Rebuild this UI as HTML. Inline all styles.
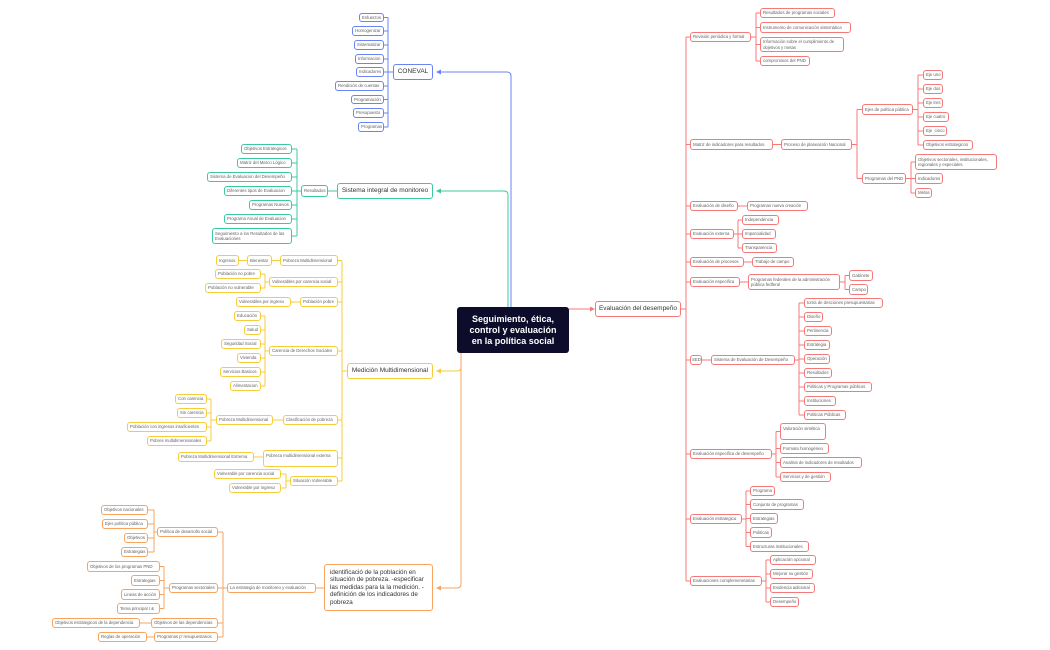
<!DOCTYPE html>
<html><head><meta charset="utf-8"><style>
body{margin:0;width:1050px;height:650px;background:#fff;position:relative;overflow:hidden;font-family:"Liberation Sans",sans-serif}
svg{position:absolute;left:0;top:0}
.n{position:absolute;box-sizing:border-box;border:1px solid;border-radius:3px;background:#fff;font-size:4.4px;letter-spacing:-0.05px;color:#666;display:flex;align-items:center;padding:0 2px;white-space:nowrap;overflow:hidden;line-height:5.3px}
.w{white-space:normal}
.b{border-color:#6b84f3}.g{border-color:#3cc9a0}.y{border-color:#f5cd3b}.o{border-color:#f6a460}.r{border-color:#f47a7a}
.m{font-size:6.5px;color:#333;justify-content:center;border-width:1.5px;letter-spacing:0}
</style></head><body>
<svg width="1050" height="650" fill="none" stroke-width="1">
<g stroke="#6b84f3">
<path d="M511 307V76Q511 72 507 72H440"/>
<path d="M393 72H388M388 17.5V127M384 17.5H388M384 31H388M384 45H388M384 59H388M384 72H388M384 86H388M384 99.5H388M384 113H388M384 127H388"/>
</g><polygon points="436,72 441,69.5 441,74.5" fill="#6b84f3"/>
<g stroke="#3cc9a0">
<path d="M508 307V195Q508 191 504 191H440"/>
<path d="M337 191H328M301 191H297M297 149V236M292 149H297M292 163H297M292 177H297M292 191H297M292 205H297M292 219H297M292 236H297"/>
</g><polygon points="436,191 441,188.5 441,193.5" fill="#3cc9a0"/>
<g stroke="#f5cd3b">
<path d="M461 353V367Q461 371 457 371H440"/>
<path d="M347 371H342M342 260.5V481M338 260.5H342M338 282H342M338 302H342M338 351H342M338 420H342M338 458H342M338 481H342"/>
<path d="M280 260.5H258M248 260.5H239M269 282H265M265 274V288M261 274H265M261 288H265M300 302H291"/>
<path d="M269 351H265M265 316V386M261 316H265M261 330H265M261 344H265M261 358H265M261 372H265M261 386H265"/>
<path d="M283 420H273M216 420H211M211 399V441M207 399H211M207 413H211M207 427H211M207 441H211M263 457H254"/>
<path d="M290 481H286M286 474V488M281 474H286M281 488H286"/>
</g><polygon points="436,371 441,368.5 441,373.5" fill="#f5cd3b"/>
<g stroke="#f6a460">
<path d="M461 353V584Q461 588 457 588H440"/>
<path d="M324 588H316M227 588H223M223 532V637M218 532H223M218 588H223M218 623H223M218 637H223"/>
<path d="M157 532H154M154 510V552M148 510H154M148 524H154M148 538H154M148 552H154"/>
<path d="M169 588H164M164 566.5V608.5M160 566.5H164M160 580.5H164M160 594.5H164M160 608.5H164M151 623H140M154 637H147"/>
</g><polygon points="436,588 441,585.5 441,590.5" fill="#f6a460"/>
<g stroke="#f47a7a">
<path d="M569 309H592"/>
<path d="M681 309H686M686 37V581M686 37H690M686 144.5H690M686 206H690M686 234H690M686 262H690M686 282H690M686 360H690M686 454H690M686 519H690M686 581H690"/>
<path d="M751 37H756M756 13V61M756 13H760M756 27.5H760M756 44.5H760M756 61H760"/>
<path d="M773 144.5H781M852 144.5H857M857 109.5V178.5M857 109.5H862M857 178.5H862"/>
<path d="M913 109.5H918M918 75V145M918 75H923M918 89H923M918 103H923M918 117H923M918 131H923M918 145H923"/>
<path d="M906 178.5H911M911 162V193M911 162H915M911 178.5H915M911 193H915"/>
<path d="M738 206H747M734 234H738M738 220V248M738 220H742M738 234H742M738 248H742M744 262H752M740 282H748M840 282H845M845 275.5V289.5M845 275.5H849M845 289.5H849"/>
<path d="M702 360H711M795 360H799M799 303V415M799 303H804M799 317H804M799 331H804M799 345H804M799 359H804M799 373H804M799 387H804M799 401H804M799 415H804"/>
<path d="M772 454H776M776 431.5V477M776 431.5H780M776 448.5H780M776 462.5H780M776 477H780"/>
<path d="M742 519H746M746 491V546.5M746 491H750M746 504.5H750M746 518.5H750M746 532.5H750M746 546.5H750"/>
<path d="M762 581H766M766 560V602M766 560H770M766 574H770M766 588H770M766 602H770"/>
</g><polygon points="595,309 590,306.5 590,311.5" fill="#f47a7a"/>
</svg>

<div style="position:absolute;left:457px;top:307px;width:112px;height:46px;background:#0d0d2b;border-radius:3px;color:#fff;font-weight:bold;font-size:9px;line-height:11px;text-align:center;display:flex;align-items:center;justify-content:center">Seguimiento, ética,<br>control y evaluación<br>en la política social</div>

<div class="n b m" style="left:393px;top:64px;width:40px;height:16px">CONEVAL</div>
<div class="n b" style="left:359px;top:13px;width:25px;height:9px">Esfuerzos</div>
<div class="n b" style="left:352px;top:26px;width:32px;height:10px">Homogenizar</div>
<div class="n b" style="left:354px;top:40px;width:30px;height:10px">Sistematizar</div>
<div class="n b" style="left:355px;top:54px;width:29px;height:10px">Informacion</div>
<div class="n b" style="left:356px;top:67px;width:28px;height:10px">Indicadores</div>
<div class="n b" style="left:335px;top:81px;width:49px;height:10px">Rendición de cuentas</div>
<div class="n b" style="left:351px;top:95px;width:33px;height:9px">Programación</div>
<div class="n b" style="left:353px;top:108px;width:31px;height:10px">Presupuesto</div>
<div class="n b" style="left:358px;top:122px;width:26px;height:10px">Programas</div>

<div class="n g m" style="left:337px;top:183px;width:96px;height:16px">Sistema integral de monitoreo</div>
<div class="n g" style="left:301px;top:185px;width:27px;height:12px">Resultados</div>
<div class="n g" style="left:241px;top:144px;width:51px;height:10px">Objetivos Estrategicos</div>
<div class="n g" style="left:237px;top:158px;width:55px;height:10px">Matriz del Marco Lógico</div>
<div class="n g" style="left:207px;top:172px;width:85px;height:10px">Sistema de Evaluacion del Desempeño</div>
<div class="n g" style="left:224px;top:186px;width:68px;height:10px">Diferentes tipos de Evaluacion</div>
<div class="n g" style="left:249px;top:200px;width:43px;height:10px">Programas Nuevos</div>
<div class="n g" style="left:224px;top:214px;width:68px;height:10px">Programa Anual de Evaluacion</div>
<div class="n g w" style="left:212px;top:228px;width:80px;height:16px">Seguimiento a los Resultados de las Evaluaciones</div>

<div class="n y m" style="left:347px;top:363px;width:86px;height:16px">Medición Multidimensional</div>
<div class="n y" style="left:280px;top:255px;width:58px;height:11px">Pobreza Multidimensional</div>
<div class="n y" style="left:247px;top:255px;width:25px;height:11px">Bienestar</div>
<div class="n y" style="left:216px;top:255px;width:23px;height:11px">Ingresos</div>
<div class="n y" style="left:269px;top:277px;width:69px;height:10px">Vulnerables por carencia social</div>
<div class="n y" style="left:215px;top:269px;width:46px;height:10px">Población no pobre</div>
<div class="n y" style="left:205px;top:283px;width:56px;height:10px">Población no vulnerable</div>
<div class="n y" style="left:300px;top:297px;width:38px;height:10px">Población pobre</div>
<div class="n y" style="left:236px;top:297px;width:55px;height:10px">Vulnerables por ingreso</div>
<div class="n y" style="left:269px;top:346px;width:69px;height:10px">Carencia de Derechos Sociales</div>
<div class="n y" style="left:234px;top:311px;width:27px;height:10px">Educación</div>
<div class="n y" style="left:244px;top:325px;width:17px;height:10px">Salud</div>
<div class="n y" style="left:221px;top:339px;width:40px;height:10px">Seguridad Social</div>
<div class="n y" style="left:237px;top:353px;width:24px;height:10px">Vivienda</div>
<div class="n y" style="left:220px;top:367px;width:41px;height:10px">Servicios Basicos</div>
<div class="n y" style="left:230px;top:381px;width:31px;height:10px">Alimentacion</div>
<div class="n y" style="left:283px;top:415px;width:55px;height:10px">Clasificación de pobreza</div>
<div class="n y" style="left:216px;top:415px;width:57px;height:10px">Pobreza Multidimensional</div>
<div class="n y" style="left:175px;top:394px;width:32px;height:10px">Con carencia</div>
<div class="n y" style="left:177px;top:408px;width:30px;height:10px">Sin carencia</div>
<div class="n y" style="left:127px;top:422px;width:80px;height:10px">Población con ingresos insuficientes</div>
<div class="n y" style="left:147px;top:436px;width:60px;height:10px">Pobres multidimensionales</div>
<div class="n y" style="left:263px;top:450px;width:75px;height:17px;align-items:flex-start;padding-top:2px">Pobreza multidimensional externa</div>
<div class="n y" style="left:178px;top:452px;width:76px;height:10px">Pobreza Multidimensional Extrema</div>
<div class="n y" style="left:290px;top:476px;width:48px;height:10px">Situación Vulnerable</div>
<div class="n y" style="left:214px;top:469px;width:67px;height:10px">Vulnerable por carencia social</div>
<div class="n y" style="left:229px;top:483px;width:52px;height:10px">Vulnerable por ingreso</div>

<div class="n o w" style="left:324px;top:564px;width:109px;height:47px;font-size:6.3px;color:#333;line-height:7.5px;padding:0 5px;border-width:1.5px;letter-spacing:0">identificació de la población en situación de pobreza. -especificar las medidas para la la medición. -definición de los indicadores de pobreza</div>
<div class="n o" style="left:227px;top:583px;width:89px;height:10px">La estrategia de monitoreo y evaluación</div>
<div class="n o" style="left:157px;top:527px;width:61px;height:10px">Política de desarrollo social</div>
<div class="n o" style="left:101px;top:505px;width:47px;height:10px">Objetivos nacionales</div>
<div class="n o" style="left:102px;top:519px;width:46px;height:10px">Ejes política pública</div>
<div class="n o" style="left:124px;top:533px;width:24px;height:10px">Objetivos</div>
<div class="n o" style="left:121px;top:547px;width:27px;height:10px">Estrategias</div>
<div class="n o" style="left:169px;top:583px;width:49px;height:10px">Programas sectoriales</div>
<div class="n o" style="left:87px;top:561px;width:73px;height:11px">Objetivos de los programas PND</div>
<div class="n o" style="left:131px;top:575px;width:29px;height:11px">Estrategias</div>
<div class="n o" style="left:121px;top:589px;width:39px;height:11px">Lineas de acción</div>
<div class="n o" style="left:117px;top:603px;width:43px;height:11px">Tema principal I &amp;</div>
<div class="n o" style="left:151px;top:618px;width:67px;height:10px">Objetivos de las dependencias</div>
<div class="n o" style="left:52px;top:618px;width:88px;height:10px">Objetivos estrategicos de la dependencia</div>
<div class="n o" style="left:154px;top:632px;width:64px;height:10px">Programas p' resupuestarios</div>
<div class="n o" style="left:98px;top:632px;width:49px;height:10px">Reglas de operación</div>

<div class="n r m" style="left:595px;top:301px;width:86px;height:16px">Evaluación del desempeño</div>
<div class="n r" style="left:690px;top:32px;width:61px;height:10px">Revisión periódica y formal</div>
<div class="n r" style="left:760px;top:8px;width:75px;height:10px">Resultados de programas sociales</div>
<div class="n r" style="left:760px;top:22px;width:91px;height:11px">Instrumento de comunicación sistemática</div>
<div class="n r w" style="left:760px;top:37px;width:84px;height:15px">Información sobre el cumplimiento de objetivos y metas</div>
<div class="n r" style="left:760px;top:56px;width:50px;height:10px">compromisos del PND</div>
<div class="n r" style="left:690px;top:139px;width:83px;height:11px">Matriz de indicadores para resultados</div>
<div class="n r" style="left:781px;top:139px;width:71px;height:11px">Proceso de planeación Nacional</div>
<div class="n r" style="left:862px;top:104px;width:51px;height:11px">Ejes de política pública</div>
<div class="n r" style="left:923px;top:70px;width:20px;height:10px">Eje uno</div>
<div class="n r" style="left:923px;top:84px;width:20px;height:10px">Eje dos</div>
<div class="n r" style="left:923px;top:98px;width:20px;height:10px">Eje tres</div>
<div class="n r" style="left:923px;top:112px;width:26px;height:10px">Eje cuatro</div>
<div class="n r" style="left:923px;top:126px;width:24px;height:10px">Eje&nbsp; cinco</div>
<div class="n r" style="left:923px;top:140px;width:50px;height:10px">Objetivos estrategicos</div>
<div class="n r" style="left:862px;top:173px;width:44px;height:11px">Programas del PND</div>
<div class="n r w" style="left:915px;top:154px;width:82px;height:16px">Objetivos sectoriales, institucionales, regionales y especiales</div>
<div class="n r" style="left:915px;top:173px;width:28px;height:11px">Indicadores</div>
<div class="n r" style="left:915px;top:188px;width:17px;height:10px">Metas</div>
<div class="n r" style="left:690px;top:201px;width:48px;height:10px">Evaluación de diseño</div>
<div class="n r" style="left:747px;top:201px;width:61px;height:10px">Programas nueva creación</div>
<div class="n r" style="left:690px;top:229px;width:44px;height:10px">Evaluación externa</div>
<div class="n r" style="left:742px;top:215px;width:37px;height:10px">Independencia</div>
<div class="n r" style="left:742px;top:229px;width:34px;height:10px">Imparcialidad</div>
<div class="n r" style="left:742px;top:243px;width:35px;height:10px">Transparencia</div>
<div class="n r" style="left:690px;top:257px;width:54px;height:10px">Evaluación de procesos</div>
<div class="n r" style="left:752px;top:257px;width:42px;height:10px">Trabajo de campo</div>
<div class="n r" style="left:690px;top:277px;width:50px;height:10px">Evaluación especifica</div>
<div class="n r w" style="left:748px;top:274px;width:92px;height:16px">Programas federales de la administración pública fedferal</div>
<div class="n r" style="left:849px;top:270px;width:24px;height:11px">Gabinete</div>
<div class="n r" style="left:849px;top:284px;width:19px;height:11px">Campo</div>
<div class="n r" style="left:690px;top:355px;width:12px;height:10px;padding:0 1px">SED</div>
<div class="n r" style="left:711px;top:355px;width:84px;height:10px">Sistema de Evaluación de Desempeño</div>
<div class="n r" style="left:804px;top:298px;width:79px;height:10px">toma de desciones presupuestarias</div>
<div class="n r" style="left:804px;top:312px;width:19px;height:10px">Diseño</div>
<div class="n r" style="left:804px;top:326px;width:28px;height:10px">Pertinencia</div>
<div class="n r" style="left:804px;top:340px;width:26px;height:10px">Estrategia</div>
<div class="n r" style="left:804px;top:354px;width:26px;height:10px">Operación</div>
<div class="n r" style="left:804px;top:368px;width:28px;height:10px">Resultados</div>
<div class="n r" style="left:804px;top:382px;width:68px;height:10px">Politicas y Programas públicos</div>
<div class="n r" style="left:804px;top:396px;width:32px;height:10px">Instituciones</div>
<div class="n r" style="left:804px;top:410px;width:42px;height:10px">Politicas Públicas</div>
<div class="n r" style="left:690px;top:449px;width:82px;height:10px">Evaluación especifica de desempeño</div>
<div class="n r" style="left:780px;top:423px;width:46px;height:17px;align-items:flex-start;padding-top:2px">Valoración sintética</div>
<div class="n r" style="left:780px;top:443px;width:49px;height:11px">Formato homogéneo</div>
<div class="n r" style="left:780px;top:457px;width:82px;height:11px">Analisis de indicadores de resultados</div>
<div class="n r" style="left:780px;top:472px;width:51px;height:10px">Servicios y de gestión</div>
<div class="n r" style="left:690px;top:514px;width:52px;height:10px">Evaluación estrategica</div>
<div class="n r" style="left:750px;top:486px;width:25px;height:10px">Programa</div>
<div class="n r" style="left:750px;top:499px;width:54px;height:11px">Conjunto de programas</div>
<div class="n r" style="left:750px;top:513px;width:28px;height:11px">Estrategias</div>
<div class="n r" style="left:750px;top:527px;width:22px;height:11px">Politicas</div>
<div class="n r" style="left:750px;top:541px;width:59px;height:11px">Estructuras institucionales</div>
<div class="n r" style="left:690px;top:576px;width:72px;height:10px">Evaluaciones complemenetarias</div>
<div class="n r" style="left:770px;top:555px;width:46px;height:10px">Aplicación opcional</div>
<div class="n r" style="left:770px;top:569px;width:43px;height:10px">Mejorar su gestión</div>
<div class="n r" style="left:770px;top:583px;width:45px;height:10px">Evidencia adicional</div>
<div class="n r" style="left:770px;top:597px;width:29px;height:10px">Desempeño</div>
</body></html>
